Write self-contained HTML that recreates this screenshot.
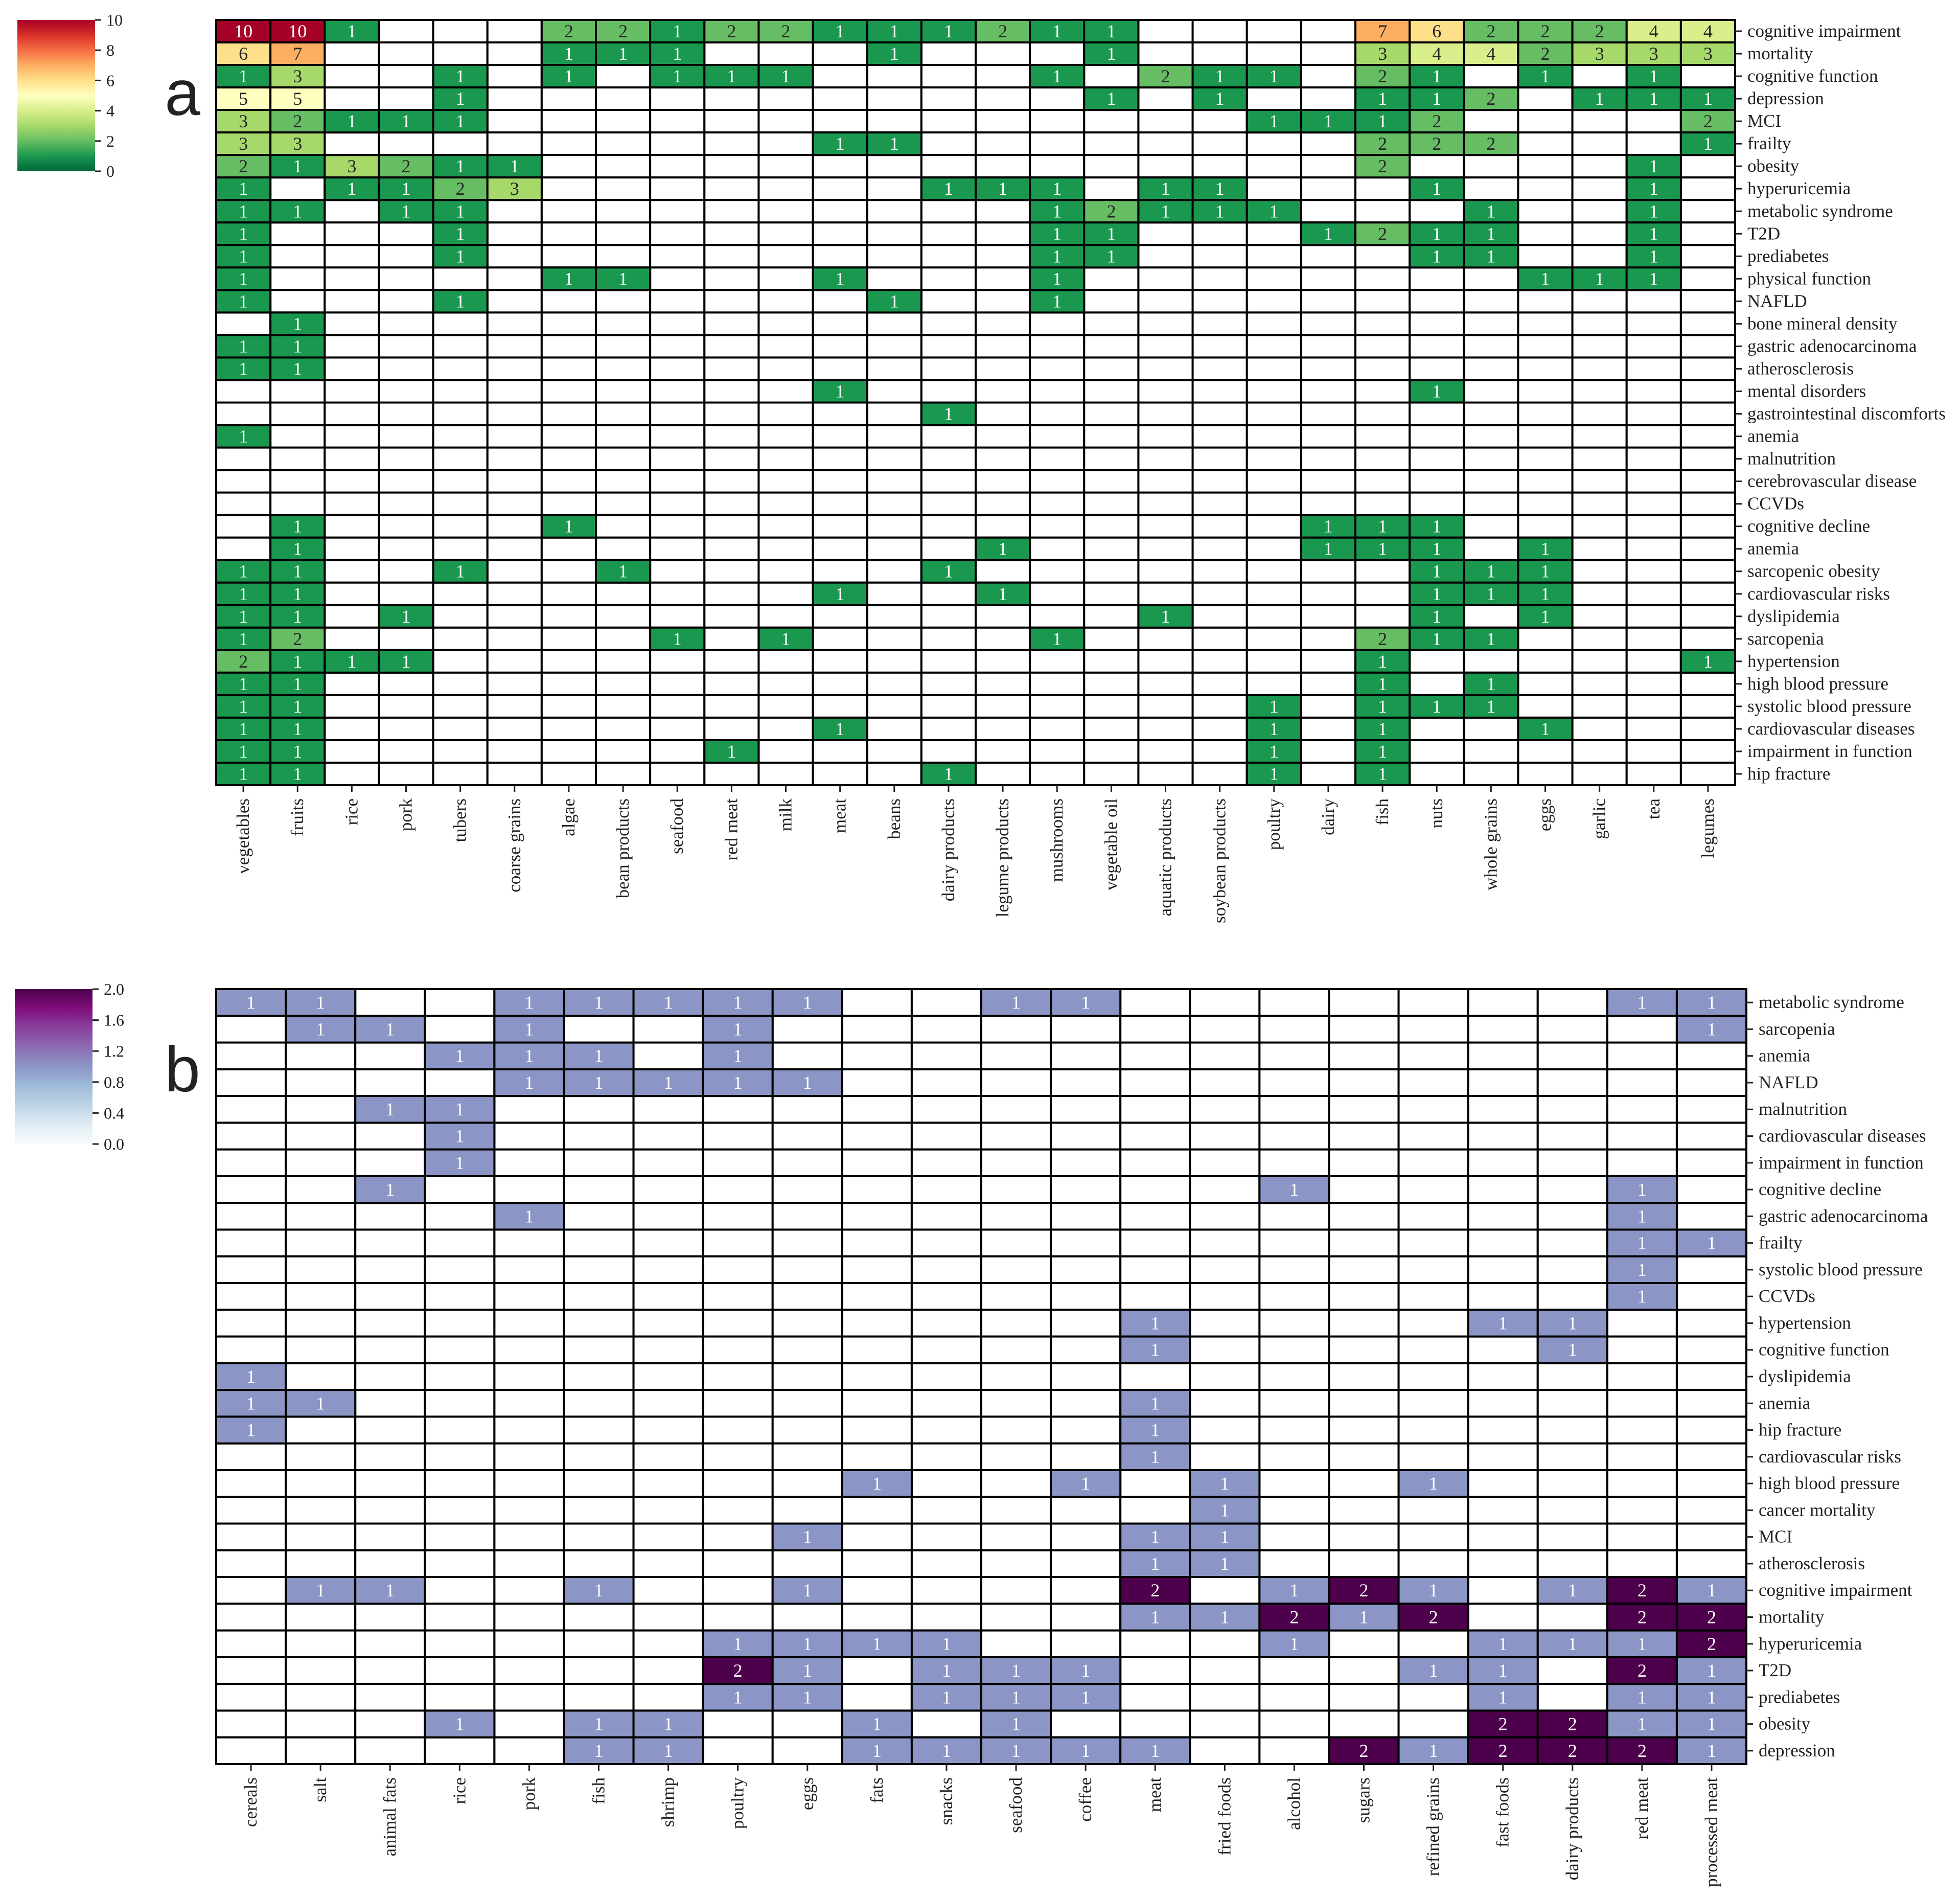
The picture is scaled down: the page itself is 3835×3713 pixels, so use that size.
<!DOCTYPE html>
<html><head><meta charset="utf-8"><style>
html,body{margin:0;padding:0;background:#fff;}
svg{display:block;}
text{font-family:"Liberation Serif",serif;fill:#222;}
</style></head><body>
<svg id="fig" width="3835" height="3713" viewBox="0 0 3835 3713" xmlns="http://www.w3.org/2000/svg">
<defs>
<linearGradient id="gradA" x1="0" y1="1" x2="0" y2="0">
<stop offset="0" stop-color="#006837"/><stop offset="0.1" stop-color="#1a9850"/><stop offset="0.2" stop-color="#66bd63"/><stop offset="0.3" stop-color="#a6d96a"/><stop offset="0.4" stop-color="#d9ef8b"/><stop offset="0.5" stop-color="#ffffbf"/><stop offset="0.6" stop-color="#fee08b"/><stop offset="0.7" stop-color="#fdae61"/><stop offset="0.8" stop-color="#f46d43"/><stop offset="0.9" stop-color="#d73027"/><stop offset="1" stop-color="#a50026"/>
</linearGradient>
<linearGradient id="gradB" x1="0" y1="1" x2="0" y2="0">
<stop offset="0" stop-color="#f7fcfd"/><stop offset="0.125" stop-color="#e0ecf4"/><stop offset="0.25" stop-color="#bfd3e6"/><stop offset="0.375" stop-color="#9ebcda"/><stop offset="0.5" stop-color="#8c96c6"/><stop offset="0.625" stop-color="#8c6bb1"/><stop offset="0.75" stop-color="#88419d"/><stop offset="0.875" stop-color="#810f7c"/><stop offset="1" stop-color="#4d004b"/>
</linearGradient>
</defs>
<text x="357" y="225" font-size="125" style="font-family:'Liberation Sans',sans-serif" text-anchor="middle">a</text>
<text x="357" y="2135" font-size="125" style="font-family:'Liberation Sans',sans-serif" text-anchor="middle">b</text>
<rect x="34" y="39" width="152" height="296" fill="url(#gradA)"/>
<rect x="29" y="1935" width="152" height="303" fill="url(#gradB)"/>
<g id="layer"></g>
</svg>
<script>
// ---------- Panel a data ----------
const colsA = ["vegetables","fruits","rice","pork","tubers","coarse grains","algae","bean products","seafood","red meat","milk","meat","beans","dairy products","legume products","mushrooms","vegetable oil","aquatic products","soybean products","poultry","dairy","fish","nuts","whole grains","eggs","garlic","tea","legumes"];
const rowsA = ["cognitive impairment","mortality","cognitive function","depression","MCI","frailty","obesity","hyperuricemia","metabolic syndrome","T2D","prediabetes","physical function","NAFLD","bone mineral density","gastric adenocarcinoma","atherosclerosis","mental disorders","gastrointestinal discomforts","anemia","malnutrition","cerebrovascular disease","CCVDs","cognitive decline","anemia","sarcopenic obesity","cardiovascular risks","dyslipidemia","sarcopenia","hypertension","high blood pressure","systolic blood pressure","cardiovascular diseases","impairment in function","hip fracture"];
const valsA = [
[[0,10],[1,10],[2,1],[6,2],[7,2],[8,1],[9,2],[10,2],[11,1],[12,1],[13,1],[14,2],[15,1],[16,1],[21,7],[22,6],[23,2],[24,2],[25,2],[26,4],[27,4]],
[[0,6],[1,7],[6,1],[7,1],[8,1],[12,1],[16,1],[21,3],[22,4],[23,4],[24,2],[25,3],[26,3],[27,3]],
[[0,1],[1,3],[4,1],[6,1],[8,1],[9,1],[10,1],[15,1],[17,2],[18,1],[19,1],[21,2],[22,1],[24,1],[26,1]],
[[0,5],[1,5],[4,1],[16,1],[18,1],[21,1],[22,1],[23,2],[25,1],[26,1],[27,1]],
[[0,3],[1,2],[2,1],[3,1],[4,1],[19,1],[20,1],[21,1],[22,2],[27,2]],
[[0,3],[1,3],[11,1],[12,1],[21,2],[22,2],[23,2],[27,1]],
[[0,2],[1,1],[2,3],[3,2],[4,1],[5,1],[21,2],[26,1]],
[[0,1],[2,1],[3,1],[4,2],[5,3],[13,1],[14,1],[15,1],[17,1],[18,1],[22,1],[26,1]],
[[0,1],[1,1],[3,1],[4,1],[15,1],[16,2],[17,1],[18,1],[19,1],[23,1],[26,1]],
[[0,1],[4,1],[15,1],[16,1],[20,1],[21,2],[22,1],[23,1],[26,1]],
[[0,1],[4,1],[15,1],[16,1],[22,1],[23,1],[26,1]],
[[0,1],[6,1],[7,1],[11,1],[15,1],[24,1],[25,1],[26,1]],
[[0,1],[4,1],[12,1],[15,1]],
[[1,1]],
[[0,1],[1,1]],
[[0,1],[1,1]],
[[11,1],[22,1]],
[[13,1]],
[[0,1]],
[],[],[],
[[1,1],[6,1],[20,1],[21,1],[22,1]],
[[1,1],[14,1],[20,1],[21,1],[22,1],[24,1]],
[[0,1],[1,1],[4,1],[7,1],[13,1],[22,1],[23,1],[24,1]],
[[0,1],[1,1],[11,1],[14,1],[22,1],[23,1],[24,1]],
[[0,1],[1,1],[3,1],[17,1],[22,1],[24,1]],
[[0,1],[1,2],[8,1],[10,1],[15,1],[21,2],[22,1],[23,1]],
[[0,2],[1,1],[2,1],[3,1],[21,1],[27,1]],
[[0,1],[1,1],[21,1],[23,1]],
[[0,1],[1,1],[19,1],[21,1],[22,1],[23,1]],
[[0,1],[1,1],[11,1],[19,1],[21,1],[24,1]],
[[0,1],[1,1],[9,1],[19,1],[21,1]],
[[0,1],[1,1],[13,1],[19,1],[21,1]]
];
const ticksA = ["0","2","4","6","8","10"];
// ---------- Panel b data ----------
const colsB = ["cereals","salt","animal fats","rice","pork","fish","shrimp","poultry","eggs","fats","snacks","seafood","coffee","meat","fried foods","alcohol","sugars","refined grains","fast foods","dairy products","red meat","processed meat"];
const rowsB = ["metabolic syndrome","sarcopenia","anemia","NAFLD","malnutrition","cardiovascular diseases","impairment in function","cognitive decline","gastric adenocarcinoma","frailty","systolic blood pressure","CCVDs","hypertension","cognitive function","dyslipidemia","anemia","hip fracture","cardiovascular risks","high blood pressure","cancer mortality","MCI","atherosclerosis","cognitive impairment","mortality","hyperuricemia","T2D","prediabetes","obesity","depression"];
const valsB = [
[[0,1],[1,1],[4,1],[5,1],[6,1],[7,1],[8,1],[11,1],[12,1],[20,1],[21,1]],
[[1,1],[2,1],[4,1],[7,1],[21,1]],
[[3,1],[4,1],[5,1],[7,1]],
[[4,1],[5,1],[6,1],[7,1],[8,1]],
[[2,1],[3,1]],
[[3,1]],
[[3,1]],
[[2,1],[15,1],[20,1]],
[[4,1],[20,1]],
[[20,1],[21,1]],
[[20,1]],
[[20,1]],
[[13,1],[18,1],[19,1]],
[[13,1],[19,1]],
[[0,1]],
[[0,1],[1,1],[13,1]],
[[0,1],[13,1]],
[[13,1]],
[[9,1],[12,1],[14,1],[17,1]],
[[14,1]],
[[8,1],[13,1],[14,1]],
[[13,1],[14,1]],
[[1,1],[2,1],[5,1],[8,1],[13,2],[15,1],[16,2],[17,1],[19,1],[20,2],[21,1]],
[[13,1],[14,1],[15,2],[16,1],[17,2],[20,2],[21,2]],
[[7,1],[8,1],[9,1],[10,1],[15,1],[18,1],[19,1],[20,1],[21,2]],
[[7,2],[8,1],[10,1],[11,1],[12,1],[17,1],[18,1],[20,2],[21,1]],
[[7,1],[8,1],[10,1],[11,1],[12,1],[18,1],[20,1],[21,1]],
[[3,1],[5,1],[6,1],[9,1],[11,1],[18,2],[19,2],[20,1],[21,1]],
[[5,1],[6,1],[9,1],[10,1],[11,1],[12,1],[13,1],[16,2],[17,1],[18,2],[19,2],[20,2],[21,1]]
];
const ticksB = ["0.0","0.4","0.8","1.2","1.6","2.0"];

const NS="http://www.w3.org/2000/svg";
const layer=document.getElementById('layer');
function mk(tag,attrs){const e=document.createElementNS(NS,tag);for(const k in attrs)e.setAttribute(k,attrs[k]);layer.appendChild(e);return e;}
function hex(h){return [parseInt(h.substr(1,2),16),parseInt(h.substr(3,2),16),parseInt(h.substr(5,2),16)];}
function cmap(stops,t){t=Math.max(0,Math.min(1,t));const n=stops.length-1;const i=Math.min(n-1,Math.floor(t*n));const f=t*n-i;const a=hex(stops[i]),b=hex(stops[i+1]);return [0,1,2].map(k=>Math.round(a[k]+(b[k]-a[k])*f));}
const stopsA=["#006837","#1a9850","#66bd63","#a6d96a","#d9ef8b","#ffffbf","#fee08b","#fdae61","#f46d43","#d73027","#a50026"];
const stopsB=["#f7fcfd","#e0ecf4","#bfd3e6","#9ebcda","#8c96c6","#8c6bb1","#88419d","#810f7c","#4d004b"];

function heatmap(cfg){
  const {cols,rows,vals,x0,x1,y0,y1,stops,vmax,key,lumCut}=cfg;
  const cw=(x1-x0)/cols.length, rh=(y1-y0)/rows.length;
  const xs=i=>x0+i*cw, ys=j=>y0+j*rh;
  for(let j=0;j<rows.length;j++){for(let i=0;i<cols.length;i++){
    const r=mk('rect',{x:xs(i),y:ys(j),width:cw,height:rh,fill:'#fff',stroke:'#000','stroke-width':4});
    
    
  }}
  vals.forEach((row,j)=>{row.forEach(([i,v])=>{
    if(!v)return;
    const c=cmap(stops,v/vmax);
    const r=mk('rect',{x:xs(i),y:ys(j),width:cw,height:rh,fill:`rgb(${c[0]},${c[1]},${c[2]})`,stroke:'#000','stroke-width':4});
    
    
    const lum=0.299*c[0]+0.587*c[1]+0.114*c[2];
    const t=mk('text',{x:xs(i)+cw/2,y:ys(j)+rh/2+12,'font-size':36,'text-anchor':'middle',style:'fill:'+(lum<lumCut?'#fff':'#262626')});
    t.textContent=v;
    
    
  });});
  rows.forEach((name,j)=>{
    const yc=ys(j)+rh/2;
    const tk=mk('line',{x1:x1,x2:x1+13,y1:yc,y2:yc,stroke:'#222','stroke-width':3});
    
    
    const t=mk('text',{x:x1+24,y:yc+11,'font-size':35});
    t.textContent=name;
    
    
  });
  cols.forEach((name,i)=>{
    const xc=xs(i)+cw/2;
    const tk=mk('line',{x1:xc,x2:xc,y1:y1,y2:y1+13,stroke:'#222','stroke-width':3});
    
    
    const t=mk('text',{x:xc+11,y:y1+26,'font-size':35,'text-anchor':'end',transform:`rotate(-90 ${xc+11} ${y1+26})`});
    t.textContent=name;
    
    
  });
}
heatmap({cols:colsA,rows:rowsA,vals:valsA,x0:423,x1:3395,y0:39,y1:1536,stops:stopsA,vmax:10,key:'heatmap-a',lumCut:150});
heatmap({cols:colsB,rows:rowsB,vals:valsB,x0:423,x1:3417,y0:1935,y1:3451,stops:stopsB,vmax:2,key:'heatmap-b',lumCut:220});

function cbar(ticks,x,y0,y1,key){
  ticks.forEach((lab,k)=>{
    const y=y1-(y1-y0)*k/(ticks.length-1);
    const tk=mk('line',{x1:x,x2:x+12,y1:y,y2:y,stroke:'#222','stroke-width':3});
    
    
    const t=mk('text',{x:x+22,y:y+11,'font-size':32});
    t.textContent=lab;
    
    
  });
}
cbar(ticksA,186,39,335,'colorbar-a');
cbar(ticksB,181,1935,2238,'colorbar-b');
</script>
</body></html>
